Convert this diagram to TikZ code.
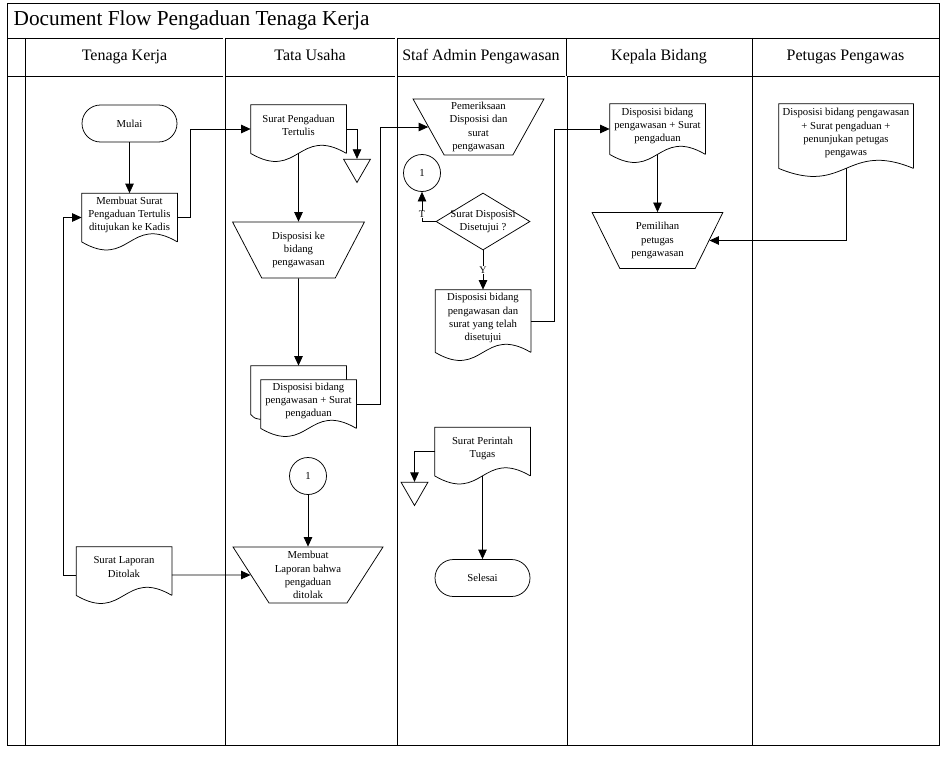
\documentclass[tikz,border=0pt]{standalone}
\usepackage{fontspec}
\setmainfont{Liberation Serif}
\usetikzlibrary{shapes,arrows.meta,calc}

\begin{document}
\begin{tikzpicture}[x=1pt,y=-1pt,>={Triangle[length=9.5pt,width=8.5pt]},line width=0.75pt,font=\fontsize{10.7}{13.2}\selectfont]
\tikzstyle{doc}=[align=center,inner sep=1pt,text depth=8,minimum width=95,minimum height=48,
  append after command={\pgfextra{\draw (\tikzlastnode.south east) -- (\tikzlastnode.north east) -- (\tikzlastnode.north west) -- (\tikzlastnode.south west) .. controls ($(\tikzlastnode.south)+(0,28)$) and ($(\tikzlastnode.south)+(0,-28)$) .. (\tikzlastnode.south east);}}]
\tikzstyle{multidoc}=[doc,
  append after command={\pgfextra{\draw ($(\tikzlastnode.north east)+(-10,0)$) -- ++(0,-14) -| ($(\tikzlastnode.south west)+(-10,-14)$) .. controls ++(4,4) .. ($(\tikzlastnode.south west)+(0,-9)$);}}]
\tikzstyle{manual}=[draw,trapezium,shape border rotate=180,trapezium angle=60,trapezium stretches=true,align=center,inner sep=0pt,minimum width=132,minimum height=56]
\tikzstyle{term}=[draw,rectangle,rounded corners=18.5,minimum width=95,minimum height=37]
\tikzstyle{conn}=[draw,circle,minimum size=37,inner sep=0pt]
\tikzstyle{store}=[draw,regular polygon,regular polygon sides=3,shape border rotate=180,minimum size=31,inner sep=0pt]
\tikzstyle{decide}=[draw,diamond,minimum width=94,minimum height=57,inner sep=0pt]
\tikzstyle{lane}=[font=\fontsize{16}{18}\selectfont,text height=11,text depth=3.5]
\tikzstyle{flow}=[->]
\tikzstyle{tag}=[fill=white,inner sep=0.5pt,font=\fontsize{10}{11}\selectfont]
\useasboundingbox (0,0) rectangle (942,768);

% frame and lanes
\draw (7,3) rectangle (939,745);
\draw (7,38) -- (939,38);
\draw (7,76) -- (939,76);
\draw (25,38) -- (25,745);
\draw[double,double distance=1.5pt] (224,38) -- (224,745);
\draw[double,double distance=1.5pt] (396,38) -- (396,745);
\draw (566,38) -- (566,76);
\draw[double,double distance=1.5pt] (566,76) -- (566,745);
\draw (752,38) -- (752,745);
\node[anchor=west,font=\fontsize{21.3}{24}\selectfont] (title) at (10,20) {Document Flow Pengaduan Tenaga Kerja};
\node[lane] (hTK) at (124.5,57) {Tenaga Kerja};
\node[lane] (hTU) at (310,57) {Tata Usaha};
\node[lane] (hSA) at (481,57) {Staf Admin Pengawasan};
\node[lane] (hKB) at (659,57) {Kepala Bidang};
\node[lane] (hPP) at (845.5,57) {Petugas Pengawas};

% Tenaga Kerja
\node[term] (mulai) at (129.5,123.5) {Mulai};
\node[doc] (membuat) at (129.5,217.5) {Membuat Surat\\Pengaduan Tertulis\\ditujukan ke Kadis};
\node[doc] (laporan) at (124,571) {Surat Laporan\\Ditolak};

% Tata Usaha
\node[doc] (suratpeng) at (298.5,129) {Surat Pengaduan\\Tertulis};
\node[store] (storA) at (357,167) {};
\node[manual] (dispke) at (298.5,250) {Disposisi ke\\bidang\\pengawasan};
\node[multidoc] (multi) at (308.5,404) {Disposisi bidang\\pengawasan + Surat\\pengaduan};
\node[conn] (satuB) at (308,476) {1};
\node[manual,trapezium angle=57,minimum width=150] (memlap) at (308,575) {Membuat\\Laporan bahwa\\pengaduan\\ditolak};

% Staf Admin Pengawasan
\node[manual,trapezium angle=62,minimum width=131] (periksa) at (478.5,127) {Pemeriksaan\\Disposisi dan\\surat\\pengawasan};
\node[conn] (satuA) at (422,173) {1};
\node[decide,label={[align=center]center:Surat Disposisi\\Disetujui ?}] (setuju) at (483,221.5) {};
\node[doc,minimum height=62] (disetujui) at (483,321) {Disposisi bidang\\pengawasan dan\\surat yang telah\\disetujui};
\node[doc] (perintah) at (482.5,451.5) {Surat Perintah\\Tugas};
\node[store] (storB) at (414.5,490) {};
\node[term] (selesai) at (482.5,578) {Selesai};

% Kepala Bidang / Petugas Pengawas
\node[doc,minimum height=50] (kepdoc) at (657.5,129) {Disposisi bidang\\pengawasan + Surat\\pengaduan};
\node[manual,trapezium angle=62,minimum width=131] (pilih) at (657.5,240.5) {Pemilihan\\petugas\\pengawasan};
\node[doc,minimum width=134,minimum height=64] (petdoc) at (846,136) {Disposisi bidang pengawasan\\+ Surat pengaduan +\\penunjukan petugas\\pengawas};

% connectors
\draw[flow] (mulai) -- (membuat);
\draw[flow] (membuat.east) -- ++(13,0) |- (suratpeng.west);
\draw[flow] (suratpeng.east) -| (storA.north);
\draw[flow] (suratpeng) -- (dispke);
\draw[flow] (dispke) -- ([shift={(-10,-14)}]multi.north);
\draw[flow] (multi.east) -- ++(24,0) |- (periksa.west);
\draw[flow] (satuB) -- (memlap);
\draw[flow] ([yshift=-4]laporan.east) -- (memlap.west);
\draw[flow] ([yshift=-4]laporan.west) -- ++(-13,0) |- (membuat.west);
\draw[flow] (setuju.west) -| node[tag,pos=0.62]{T} (satuA.south);
\draw[flow] (setuju) -- node[tag]{Y} (disetujui);
\draw[flow] (disetujui.east) -- ++(23,0) |- (kepdoc.west);
\draw[flow] (perintah.west) -| (storB.north);
\draw[flow] (perintah) -- (selesai);
\draw[flow] (kepdoc) -- (pilih);
\draw[flow] (petdoc.south) |- (pilih.east);
\end{tikzpicture}
\end{document}
